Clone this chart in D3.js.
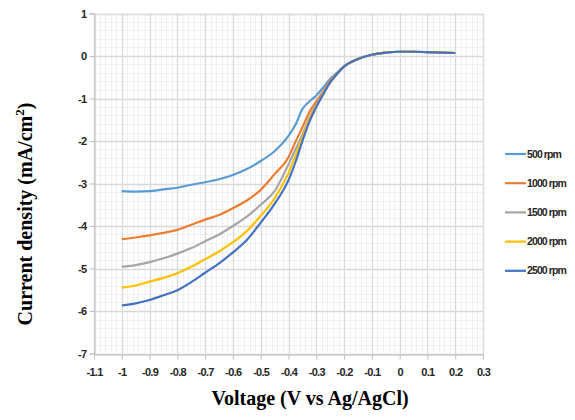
<!DOCTYPE html>
<head>
    <meta charset="utf-8">
    <script src="https://d3js.org/d3.v7.min.js"></script>
    <style>
        body { margin: 0; background: #fff; }
        .tick-label { font-family: "Liberation Sans Narrow", "Arial Narrow", "Liberation Sans", sans-serif; font-weight: bold; font-size: 11px; fill: #262626; letter-spacing: -0.7px; }
        .legend-label { font-family: "Liberation Sans Narrow", "Arial Narrow", "Liberation Sans", sans-serif; font-weight: bold; font-size: 10.5px; fill: #262626; letter-spacing: -0.9px; }
        .axis-title { font-family: "Liberation Serif", "Times New Roman", serif; font-weight: bold; font-size: 20px; fill: #000; }
    </style>
</head>
<body>
    <svg id="chart" width="575" height="420"></svg>
    <script>
        // voltage grid (V vs Ag/AgCl)
        var voltage = [-1, -0.95, -0.9, -0.85, -0.8, -0.75, -0.7, -0.65, -0.6, -0.55, -0.5, -0.45, -0.4,
            -0.375, -0.35, -0.325, -0.3, -0.275, -0.25, -0.225, -0.2, -0.15, -0.1, -0.05, 0, 0.05, 0.1, 0.15, 0.2];

        var rpm500 = [-3.18, -3.19, -3.18, -3.14, -3.10, -3.03, -2.97, -2.90, -2.80, -2.66, -2.47, -2.24, -1.88,
            -1.62, -1.25, -1.07, -0.93, -0.74, -0.54, -0.39, -0.24, -0.07, 0.03, 0.08, 0.1, 0.1, 0.09, 0.08, 0.07];
        var rpm1000 = [-4.31, -4.27, -4.22, -4.16, -4.09, -3.97, -3.85, -3.74, -3.58, -3.40, -3.15, -2.78, -2.38,
            -2.02, -1.68, -1.32, -1.07, -0.83, -0.58, -0.41, -0.25, -0.07, 0.03, 0.08, 0.1, 0.1, 0.09, 0.08, 0.07];
        var rpm1500 = [-4.96, -4.92, -4.85, -4.76, -4.65, -4.52, -4.36, -4.20, -4.00, -3.78, -3.50, -3.18, -2.55,
            -2.20, -1.85, -1.45, -1.14, -0.87, -0.61, -0.42, -0.25, -0.07, 0.03, 0.08, 0.1, 0.1, 0.09, 0.08, 0.07];
        var rpm2000 = [-5.45, -5.40, -5.31, -5.22, -5.11, -4.96, -4.78, -4.60, -4.38, -4.12, -3.76, -3.35, -2.75,
            -2.35, -1.92, -1.50, -1.18, -0.89, -0.62, -0.42, -0.25, -0.07, 0.03, 0.08, 0.1, 0.1, 0.09, 0.08, 0.07];
        var rpm2500 = [-5.87, -5.82, -5.74, -5.63, -5.51, -5.32, -5.10, -4.88, -4.62, -4.33, -3.92, -3.48, -2.92,
            -2.50, -2.00, -1.55, -1.20, -0.90, -0.62, -0.42, -0.25, -0.07, 0.03, 0.08, 0.1, 0.1, 0.09, 0.08, 0.07];

        var seriesNames = ["500 rpm", "1000 rpm", "1500 rpm", "2000 rpm", "2500 rpm"];
        var seriesValues = [rpm500, rpm1000, rpm1500, rpm2000, rpm2500];
        var seriesColors = ["#5b9bd5", "#ed7d31", "#a5a5a5", "#ffc000", "#4472c4"];

        var xTicks = [-1.1, -1, -0.9, -0.8, -0.7, -0.6, -0.5, -0.4, -0.3, -0.2, -0.1, 0, 0.1, 0.2, 0.3];
        var yTicks = [1, 0, -1, -2, -3, -4, -5, -6, -7];

        var svg = d3.select("#chart");
        var plotLeft = 94, plotRight = 483, plotTop = 13.5, plotBottom = 353.5;

        var x = d3.scaleLinear().domain([-1.1, 0.3]).range([plotLeft, plotRight]);
        var y = d3.scaleLinear().domain([-7, 1]).range([plotBottom, plotTop]);

        function px(v) { return Math.round(v) + 0.5; }
        function fmt(d) { return String(+d.toFixed(1)); }

        // minor grid
        var minorX = d3.range(0, 71).map(function (i) { return -1.1 + i * 0.02; });
        var minorY = d3.range(0, 41).map(function (i) { return -7 + i * 0.2; });
        var grid = svg.append("g");
        grid.selectAll(".mx").data(minorX).enter().append("line")
            .attr("x1", function (d) { return px(x(d)); })
            .attr("x2", function (d) { return px(x(d)); })
            .attr("y1", plotTop).attr("y2", plotBottom)
            .attr("stroke", "#f0f0f0").attr("stroke-width", 1);
        grid.selectAll(".my").data(minorY).enter().append("line")
            .attr("y1", function (d) { return px(y(d)); })
            .attr("y2", function (d) { return px(y(d)); })
            .attr("x1", plotLeft).attr("x2", plotRight)
            .attr("stroke", "#f0f0f0").attr("stroke-width", 1);

        // major grid
        grid.selectAll(".Mx").data(xTicks).enter().append("line")
            .attr("x1", function (d) { return px(x(d)); })
            .attr("x2", function (d) { return px(x(d)); })
            .attr("y1", plotTop).attr("y2", plotBottom)
            .attr("stroke", "#d9d9d9").attr("stroke-width", 1.3);
        grid.selectAll(".My").data(yTicks).enter().append("line")
            .attr("y1", function (d) { return px(y(d)); })
            .attr("y2", function (d) { return px(y(d)); })
            .attr("x1", plotLeft).attr("x2", plotRight)
            .attr("stroke", "#d9d9d9").attr("stroke-width", 1.3);

        // plot frame
        grid.append("rect")
            .attr("x", px(plotLeft)).attr("y", px(plotTop))
            .attr("width", px(plotRight) - px(plotLeft)).attr("height", px(plotBottom) - px(plotTop))
            .attr("fill", "none").attr("stroke", "#dcdcdc").attr("stroke-width", 1.3);

        // axes
        var xAxis = d3.axisBottom(x).tickValues(xTicks).tickSize(5).tickPadding(9).tickFormat(fmt);
        var gx = svg.append("g").attr("transform", "translate(0," + px(y(-7)) + ")").call(xAxis);
        gx.select(".domain").attr("stroke", "#bfbfbf");
        gx.selectAll(".tick line").attr("stroke", "#bfbfbf");
        gx.selectAll(".tick text").attr("class", "tick-label");
        gx.attr("font-family", null).attr("font-size", null);

        var yAxis = d3.axisLeft(y).tickValues(yTicks).tickSize(5).tickPadding(3).tickFormat(fmt);
        var gy = svg.append("g").attr("transform", "translate(" + px(x(-1.1)) + ",0)").call(yAxis);
        gy.select(".domain").attr("stroke", "#bfbfbf");
        gy.selectAll(".tick line").attr("stroke", "#bfbfbf");
        gy.selectAll(".tick text").attr("class", "tick-label");
        gy.attr("font-family", null).attr("font-size", null);

        // series
        var line = d3.line()
            .x(function (d, i) { return x(voltage[i]); })
            .y(function (d) { return y(d); })
            .curve(d3.curveMonotoneX);

        svg.append("g").selectAll("path").data(seriesValues).enter().append("path")
            .attr("d", function (d) { return line(d); })
            .attr("fill", "none")
            .attr("stroke", function (d, i) { return seriesColors[i]; })
            .attr("stroke-width", 2.2);

        // legend
        var legend = svg.append("g").selectAll("g").data(seriesNames).enter().append("g")
            .attr("transform", function (d, i) { return "translate(505," + (154 + i * 29.2) + ")"; });
        legend.append("line").attr("x1", 0).attr("x2", 21).attr("y1", 0).attr("y2", 0)
            .attr("stroke", function (d, i) { return seriesColors[i]; }).attr("stroke-width", 2.2);
        legend.append("text").attr("class", "legend-label").attr("x", 22).attr("dy", "0.35em")
            .text(function (d) { return d; });

        // axis titles
        svg.append("text").attr("class", "axis-title")
            .attr("x", 310).attr("y", 405).attr("text-anchor", "middle")
            .text("Voltage (V vs Ag/AgCl)");

        var yt = svg.append("text").attr("class", "axis-title")
            .attr("transform", "translate(32,214) rotate(-90)")
            .attr("text-anchor", "middle");
        yt.append("tspan").text("Current density (mA/cm");
        yt.append("tspan").attr("font-size", "13px").attr("dy", "-8").text("2");
        yt.append("tspan").attr("dy", "8").text(")");
    </script>
</body>
